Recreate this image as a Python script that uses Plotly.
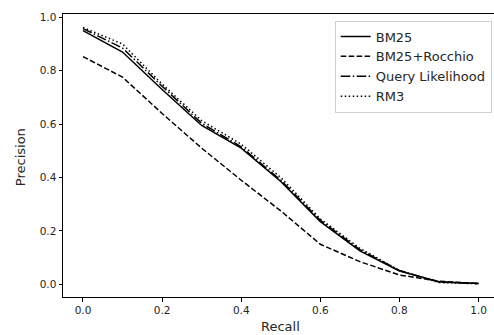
import plotly.graph_objects as go

recall = [0.0, 0.1, 0.2, 0.3, 0.4, 0.5, 0.6, 0.7, 0.8, 0.9, 1.0]
bm25 = [0.950, 0.870, 0.730, 0.595, 0.510, 0.385, 0.235, 0.125, 0.050, 0.010, 0.003]
bm25_rocchio = [0.853, 0.776, 0.640, 0.510, 0.390, 0.275, 0.150, 0.085, 0.035, 0.012, 0.003]
query_likelihood = [0.958, 0.885, 0.742, 0.603, 0.515, 0.390, 0.240, 0.130, 0.052, 0.008, 0.003]
rm3 = [0.962, 0.900, 0.750, 0.613, 0.525, 0.400, 0.245, 0.135, 0.052, 0.007, 0.002]

series_names = ["BM25", "BM25+Rocchio", "Query Likelihood", "RM3"]
series_values = [bm25, bm25_rocchio, query_likelihood, rm3]
dashes = ["solid", "5.55px,2.4px", "9.6px,2.4px,1.5px,2.4px", "1.5px,2.5px"]

x_ticks = [0.0, 0.2, 0.4, 0.6, 0.8, 1.0]
y_ticks = [0.0, 0.2, 0.4, 0.6, 0.8, 1.0]

fig = go.Figure()
for name, vals, d in zip(series_names, series_values, dashes):
    fig.add_trace(go.Scatter(x=recall, y=vals, mode="lines", name=name,
                             line=dict(color="black", width=1.5, dash=d)))

tick_font = dict(family="DejaVu Sans", size=10.5, color="#262626")
label_font = dict(family="DejaVu Sans", size=13, color="#262626")
axis_common = dict(showgrid=False, zeroline=False, showline=True, linecolor="black",
                   linewidth=1, ticks="outside", ticklen=3.5, tickwidth=0.8,
                   tickcolor="black", tickfont=tick_font)

fig.update_layout(
    width=494, height=335,
    margin=dict(l=63, r=0, t=14, b=38),
    paper_bgcolor="white", plot_bgcolor="white",
    font=tick_font,
    showlegend=True,
    legend=dict(x=0.9947, y=0.977, xanchor="right", yanchor="top",
                bgcolor="rgba(255,255,255,0.8)", bordercolor="#d0d0d0", borderwidth=1,
                font=label_font, tracegroupgap=0),
    xaxis=dict(range=[-0.0505, 1.039], tickvals=x_ticks,
               ticktext=[f"{v:.1f}" for v in x_ticks], mirror=True, **axis_common),
    yaxis=dict(range=[-0.0474, 1.0125], tickvals=y_ticks,
               ticktext=[f"{v:.1f}" for v in y_ticks], mirror=False, **axis_common),
    annotations=[
        dict(text="Recall", x=0.504, y=-0.103, xref="paper", yref="paper",
             xanchor="center", yanchor="middle", showarrow=False, font=label_font),
        dict(text="Precision", x=-0.0998, y=0.494, xref="paper", yref="paper",
             xanchor="center", yanchor="middle", showarrow=False, textangle=-90,
             font=label_font),
    ],
)

fig.write_html("out.html", config={"displayModeBar": False},
               post_script="document.body.style.margin='0';document.body.style.padding='0';")
